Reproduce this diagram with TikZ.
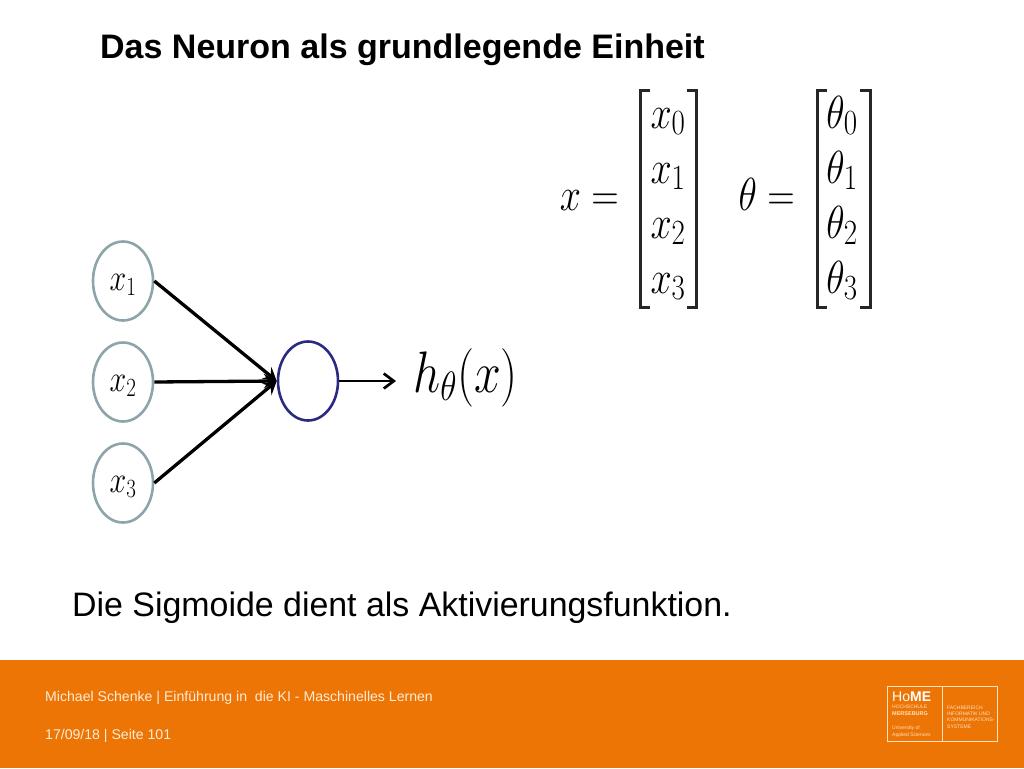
\RequirePackage{fix-cm}
\documentclass[tikz,border=0pt]{standalone}
\usepackage{amsmath}
\usepackage{fontspec}
\setmainfont{Liberation Sans}
\usetikzlibrary{shapes.geometric,arrows.meta}
\DeclareMathSizes{38}{38}{29}{22}
\definecolor{footerorange}{RGB}{236,117,6}
\definecolor{inputring}{RGB}{140,165,170}
\definecolor{neuronring}{RGB}{42,42,130}
\definecolor{logotext}{RGB}{255,226,190}
\definecolor{footercream}{RGB}{255,236,214}
\newcommand{\tallmath}[1]{\scalebox{1}[1.25]{$#1$}}
\tikzstyle{inputnode} = [ellipse, draw=inputring, line width=2.6pt, minimum width=60pt, minimum height=79pt, inner sep=0pt, text height=18pt, text depth=0pt, font=\fontsize{30}{33}\selectfont]
\tikzstyle{neuronnode} = [ellipse, draw=neuronring, line width=2.6pt, minimum width=60pt, minimum height=79pt, inner sep=0pt]
\tikzstyle{edge} = [line width=3.3pt, -{Stealth[length=13pt,width=15pt,inset=5pt]}]
\tikzstyle{outedge} = [line width=2.7pt, -{Straight Barb[length=10pt,width=15pt,line width=2.7pt]}]
\tikzstyle{bracket} = [line width=3pt, draw=black!85]
\tikzstyle{bigmath} = [yscale=1.22, transform shape, anchor=base, inner sep=0pt, font=\fontsize{38}{44}\selectfont]
\tikzstyle{logosmall} = [text=logotext, anchor=west, inner sep=0pt, font=\fontsize{5}{6}\selectfont]
\tikzstyle{footertext} = [text=footercream, anchor=west, inner sep=0pt, font=\fontsize{14.1}{16}\selectfont]

\begin{document}
\begin{tikzpicture}[x=1pt, y=-1pt]
            \useasboundingbox (0, 0) rectangle (1024, 768);
            \fill[footerorange] (0, 660) rectangle (1024, 768);

            \node[anchor=west, inner sep=0pt, font=\fontsize{34}{40}\selectfont\bfseries] (title) at (100, 50) {Das Neuron als grundlegende Einheit};
            \node[anchor=west, inner sep=0pt, font=\fontsize{33.9}{40}\selectfont] (caption) at (72, 608) {Die Sigmoide dient als Aktivierungsfunktion.};

            % network
            \node[inputnode] (xone) at (123, 281) {\tallmath{x_1}};
            \node[inputnode] (xtwo) at (123, 382) {\tallmath{x_2}};
            \node[inputnode] (xthree) at (123, 483) {\tallmath{x_3}};
            \node[neuronnode] (neuron) at (308, 381) {};
            \node[yscale=1.22, transform shape, anchor=base west, inner sep=0pt, font=\fontsize{48}{55}\selectfont] (output) at (413, 392) {$h_\theta(x)$};
            \coordinate (outputend) at (396, 381);

            \draw[edge] (xone.east) -- (neuron.west);
            \draw[edge] (xtwo.east) -- (neuron.west);
            \draw[edge] (xthree.east) -- (neuron.west);
            \draw[outedge] (neuron.east) -- (outputend);

            % left vector
            \node[bigmath, anchor=base east] (xlabel) at (619, 210) {$x=$};
            \node[bigmath] (xzero) at (668, 128) {$x_0$};
            \node[bigmath] (xa) at (668, 183) {$x_1$};
            \node[bigmath] (xb) at (668, 238) {$x_2$};
            \node[bigmath] (xc) at (668, 293) {$x_3$};
            \draw[bracket] (650, 90) -- (640, 90) -- (640, 307) -- (650, 307);
            \draw[bracket] (687, 90) -- (696, 90) -- (696, 307) -- (687, 307);

            % right vector
            \node[bigmath, anchor=base east] (thetalabel) at (795, 210) {$\theta=$};
            \node[bigmath] (thetazero) at (842, 128) {$\theta_0$};
            \node[bigmath] (thetaa) at (842, 183) {$\theta_1$};
            \node[bigmath] (thetab) at (842, 238) {$\theta_2$};
            \node[bigmath] (thetac) at (842, 293) {$\theta_3$};
            \draw[bracket] (827, 90) -- (817, 90) -- (817, 307) -- (827, 307);
            \draw[bracket] (860, 90) -- (870, 90) -- (870, 307) -- (860, 307);

            % footer
            \node[footertext] (course) at (45, 698) {Michael Schenke | Einführung in\ \ die KI - Maschinelles Lernen};
            \node[footertext] (date) at (45, 736) {17/09/18 | Seite 101};

            \draw[logotext, line width=0.6pt] (887, 686) rectangle (997, 741);
            \draw[logotext, line width=0.6pt] (942, 686) -- (942, 741);
            \node[logosmall, text=white, font=\fontsize{14}{15}\selectfont] (home) at (892, 697) {Ho\textbf{ME}};
            \node[logosmall] (school) at (892, 707) {HOCHSCHULE};
            \node[logosmall, font=\fontsize{5.5}{6}\selectfont\bfseries] (city) at (892, 714) {MERSEBURG};
            \node[logosmall] (university) at (892, 728) {University of};
            \node[logosmall] (applied) at (892, 735) {Applied Sciences};
            \node[logosmall] (dept) at (947, 708) {FACHBEREICH};
            \node[logosmall] (informatik) at (947, 714) {INFORMATIK UND};
            \node[logosmall] (komm) at (947, 720) {KOMMUNIKATIONS-};
            \node[logosmall] (systeme) at (947, 727) {SYSTEME};
        \end{tikzpicture}
\end{document}
